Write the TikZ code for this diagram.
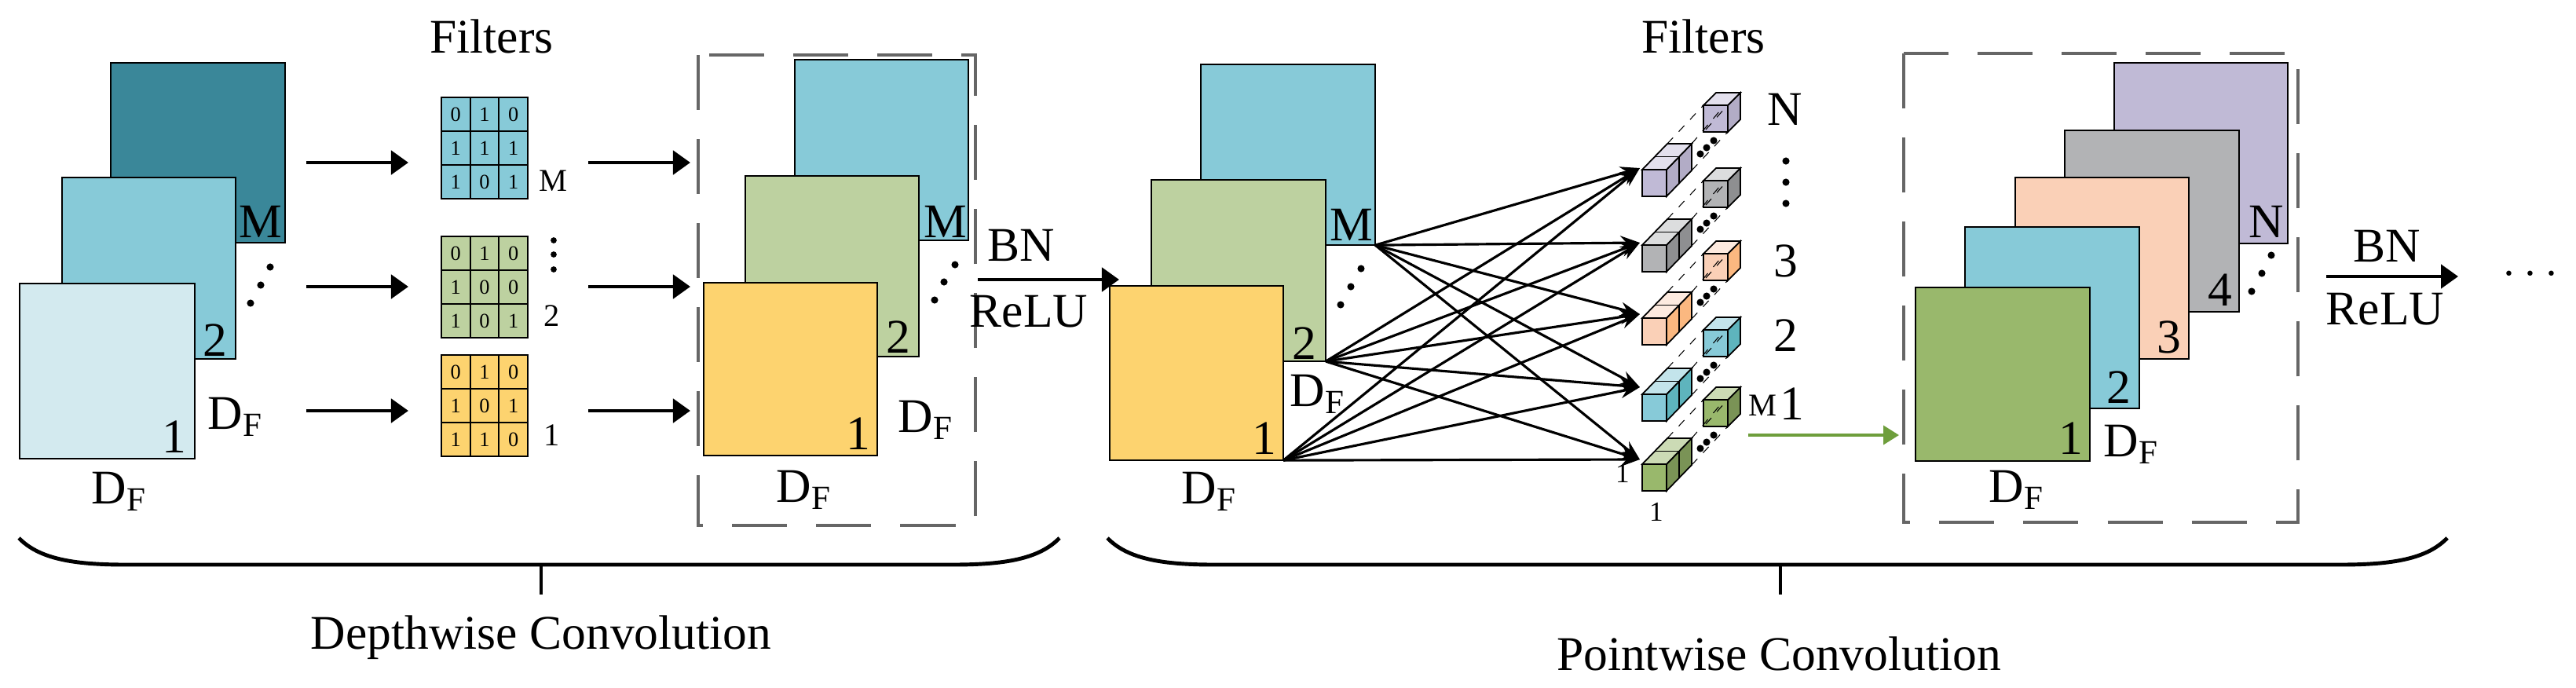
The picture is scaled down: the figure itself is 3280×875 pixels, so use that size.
\documentclass[tikz,border=0pt]{standalone}
\usepackage{fontspec}
\setmainfont{Liberation Serif}
\usetikzlibrary{arrows.meta}
\definecolor{cTeal}{HTML}{3A8799}
\definecolor{cBlue}{HTML}{87CAD8}
\definecolor{cPale}{HTML}{D3EAEF}
\definecolor{cGrL}{HTML}{BDD1A0}
\definecolor{cYel}{HTML}{FDD36F}
\definecolor{cPur}{HTML}{C0BAD6}
\definecolor{cGray}{HTML}{B2B3B5}
\definecolor{cPea}{HTML}{FAD0B7}
\definecolor{cGrD}{HTML}{99B86C}
\definecolor{cDash}{HTML}{666666}
\definecolor{cArr}{HTML}{6E9E3C}
\newcommand\Kgrid[4]{%
  \fill[#3] (#1,#2) rectangle ++(110,129);
  \foreach \r [count=\i from 0] in {#4} {
    \foreach \c [count=\j from 0] in \r {
      \draw[line width=0.6pt] (#1+36.67*\j,#2+43*\i) rectangle ++(36.67,43);
      \node[dig] at (#1+18.3+36.67*\j,#2+21.5+43*\i) {\c};
    }
  }
}
\newcommand\PCgroup[4]{%
  \begin{scope}[shift={(2091,#1)},line width=0.5pt]
    \filldraw[fill=#3] (31,0)--(63,-33)--(63,1)--(31,34)--cycle;
    \filldraw[fill=#4] (0,0)--(32,-33)--(63,-33)--(31,0)--cycle;
    \filldraw[fill=#2] (0,0) rectangle (31,34);
    \draw (16,-16.5)--(47,-16.5)--(47,17.5);
  \end{scope}
  \begin{scope}[shift={(2169,#1-82)},line width=0.5pt]
    \filldraw[fill=#3] (31,0)--(47,-16)--(47,18)--(31,34)--cycle;
    \filldraw[fill=#4] (0,0)--(16,-16)--(47,-16)--(31,0)--cycle;
    \filldraw[fill=#2] (0,0) rectangle (31,34);
    \draw[dashed,line width=0.3pt] (3,31)--(28,3);
  \end{scope}
  \draw[dashed,line width=0.3pt] (2123,#1-33)--(2169,#1-82);
  \draw[dashed,line width=0.3pt] (2154,#1+1)--(2200,#1-48);
  \draw[dashed,line width=0.3pt] (2154,#1-33)--(2190,#1-75);
  \foreach \dx/\dy in {2165/20,2173/28,2182/37} \fill (\dx,#1-\dy) circle[radius=1.3pt];
}
\begin{document}
\begin{tikzpicture}[x=0.01cm,y=-0.01cm,
  fm/.style={draw,line width=0.5pt,fill=#1,inner sep=0,outer sep=0,anchor=north west},
  lab/.style={font=\fontsize{17.5}{20}\selectfont,inner sep=0},
  sm/.style={font=\fontsize{11.5}{13}\selectfont,inner sep=0},
  dig/.style={font=\fontsize{7.5}{9}\selectfont,inner sep=0},
  arr/.style={line width=1.4pt,-{Triangle[length=0.22cm,width=0.3cm]}},
  fan/.style={line width=0.9pt,-{Stealth[length=0.25cm,width=0.18cm]}},
  dbox/.style={draw=cDash,line width=1.3pt,dash pattern=on 0.7cm off 0.37cm},
  brace/.style={line width=1.4pt},
  dot/.style={radius=1.3pt}]
\useasboundingbox (0,0) rectangle (3280,875);

% ---------- depthwise input ----------
\node[fm=cTeal,minimum width=2.22cm,minimum height=2.29cm] (dM) at (141,80) {};
\node[fm=cBlue,minimum width=2.21cm,minimum height=2.31cm] (d2) at (79,226) {};
\node[fm=cPale,minimum width=2.23cm,minimum height=2.23cm] (d1) at (25,361) {};
\node[lab] (ldM) at (332,282) {M};
\node[lab] (ld2) at (274,433) {2};
\node[lab] (ld1) at (222,556) {1};
\node[lab] (ldF1) at (300,531) {D\textsubscript{F}};
\node[lab] (ldF2) at (152,626) {D\textsubscript{F}};
\foreach \x/\y in {344/340,332/363,319/386} \fill (\x,\y) circle[dot];

% ---------- filters ----------
\node[lab] (fil1) at (626,46) {Filters};
\Kgrid{562}{124}{cBlue}{{0,1,0},{1,1,1},{1,0,1}}
\Kgrid{562}{301}{cGrL}{{0,1,0},{1,0,0},{1,0,1}}
\Kgrid{562}{452}{cYel}{{0,1,0},{1,0,1},{1,1,0}}
\node[sm] (kM) at (704,230) {M};
\foreach \y in {306,324,343} \fill (705,\y) circle[radius=1.1pt];
\node[sm] (k2) at (703,402) {2};
\node[sm] (k1) at (703,554) {1};

\foreach \y [count=\k] in {207,365,523} {
  \coordinate (a\k) at (390,\y); \coordinate (b\k) at (520,\y);
  \coordinate (c\k) at (749,\y); \coordinate (e\k) at (879,\y);
  \draw[arr] (a\k) -- (b\k);
  \draw[arr] (c\k) -- (e\k);
}

% ---------- depthwise output ----------
\draw[dbox] (889,70) rectangle (1242,669);
\node[fm=cBlue,minimum width=2.21cm,minimum height=2.30cm] (oM) at (1012,76) {};
\node[fm=cGrL,minimum width=2.21cm,minimum height=2.30cm] (o2) at (949,224) {};
\node[fm=cYel,minimum width=2.21cm,minimum height=2.20cm] (o1) at (896,360) {};
\node[lab] (loM) at (1204,282) {M};
\node[lab] (lo2) at (1144,429) {2};
\node[lab] (lo1) at (1093,552) {1};
\node[lab] (loF1) at (1179,535) {D\textsubscript{F}};
\node[lab] (loF2) at (1024,624) {D\textsubscript{F}};
\foreach \x/\y in {1216/337,1202/359,1190/382} \fill (\x,\y) circle[dot];

% BN ReLU 1
\coordinate (bn1a) at (1245,356); \coordinate (bn1b) at (1425,356);
\draw[arr] (bn1a) -- (bn1b);
\node[lab] (bn1) at (1300,312) {BN};
\node[lab] (relu1) at (1310,397) {ReLU};

% ---------- pointwise input ----------
\node[fm=cBlue,minimum width=2.22cm,minimum height=2.30cm] (pM) at (1529,82) {};
\node[fm=cGrL,minimum width=2.22cm,minimum height=2.31cm] (p2) at (1466,229) {};
\node[fm=cYel,minimum width=2.21cm,minimum height=2.22cm] (p1) at (1413,364) {};
\node[lab] (lpM) at (1721,286) {M};
\node[lab] (lp2) at (1661,437) {2};
\node[lab] (lp1) at (1610,558) {1};
\node[lab] (lpF1) at (1678,502) {D\textsubscript{F}};
\node[lab] (lpF2) at (1540,626) {D\textsubscript{F}};
\foreach \x/\y in {1733/342,1720/365,1707/388} \fill (\x,\y) circle[dot];

% ---------- pointwise filters ----------
\node[lab] (fil2) at (2169,46) {Filters};
\PCgroup{216}{cPur}{cPur!75!black!30!cPur}{cPur!45!white}
\PCgroup{312}{cGray}{cGray!80!black}{cGray!45!white}
\PCgroup{405}{cPea}{cPea!70!orange}{cPea!45!white}
\PCgroup{502}{cBlue}{cBlue!70!teal}{cBlue!50!white}
\PCgroup{591}{cGrD}{cGrD!80!black}{cGrD!50!white}

\foreach \y [count=\k] in {214,309,400,493,585} \coordinate (t\k) at (2088,\y);
\foreach \s in {pM,p2,p1} \foreach \k in {1,...,5} \draw[fan] (\s.south east) -- (t\k);

\node[lab] (cN) at (2273,139) {N};
\foreach \y in {205,232,259} \fill (2274,\y) circle[dot];
\node[lab] (c3) at (2274,332) {3};
\node[lab] (c2) at (2274,427) {2};
\node[sm] (cMs) at (2244,516) {M};
\node[lab] (c1) at (2282,514) {1};
\node[font=\fontsize{10}{12}\selectfont,inner sep=0] (cI) at (2066,603) {1};
\node[font=\fontsize{10}{12}\selectfont,inner sep=0] (cI2) at (2109,652) {1};

\coordinate (ga) at (2226,554); \coordinate (gb) at (2418,554);
\draw[draw=cArr,line width=1.1pt,-{Triangle[length=0.2cm,width=0.24cm]}] (ga) -- (gb);

% ---------- pointwise output ----------
\draw[dbox] (2424,68) rectangle (2926,665);
\node[fm=cPur,minimum width=2.21cm,minimum height=2.30cm] (qN) at (2692,80) {};
\node[fm=cGray,minimum width=2.22cm,minimum height=2.31cm] (q4) at (2629,166) {};
\node[fm=cPea,minimum width=2.21cm,minimum height=2.31cm] (q3) at (2566,226) {};
\node[fm=cBlue,minimum width=2.22cm,minimum height=2.31cm] (q2) at (2502,289) {};
\node[fm=cGrD,minimum width=2.22cm,minimum height=2.21cm] (q1) at (2439,366) {};
\node[lab] (lqN) at (2886,282) {N};
\node[lab] (lq4) at (2827,369) {4};
\node[lab] (lq3) at (2762,429) {3};
\node[lab] (lq2) at (2698,493) {2};
\node[lab] (lq1) at (2637,558) {1};
\node[lab] (lqF1) at (2714,566) {D\textsubscript{F}};
\node[lab] (lqF2) at (2568,624) {D\textsubscript{F}};
\foreach \x/\y in {2892/325,2880/348,2867/371} \fill (\x,\y) circle[dot];

\coordinate (bn2a) at (2962,352); \coordinate (bn2b) at (3130,352);
\draw[arr] (bn2a) -- (bn2b);
\node[lab] (bn2) at (3039,313) {BN};
\node[lab] (relu2) at (3037,394) {ReLU};
\node[lab] (more) at (3222,350) {$\cdots$};

% ---------- braces ----------
\draw[brace] (24,685) .. controls (50,712) and (95,719) .. (160,719) -- (1213,719)
  .. controls (1278,719) and (1323,712) .. (1349,685);
\coordinate (tk1a) at (689,719); \coordinate (tk1b) at (689,757);
\draw[line width=1pt] (tk1a) -- (tk1b);
\node[lab] (dw) at (689,812) {Depthwise Convolution};
\draw[brace] (1410,685) .. controls (1436,712) and (1481,719) .. (1546,719) -- (2980,719)
  .. controls (3045,719) and (3090,712) .. (3116,685);
\coordinate (tk2a) at (2267,719); \coordinate (tk2b) at (2267,757);
\draw[line width=1pt] (tk2a) -- (tk2b);
\node[lab] (pw) at (2265,832) {Pointwise Convolution};
\end{tikzpicture}
\end{document}
